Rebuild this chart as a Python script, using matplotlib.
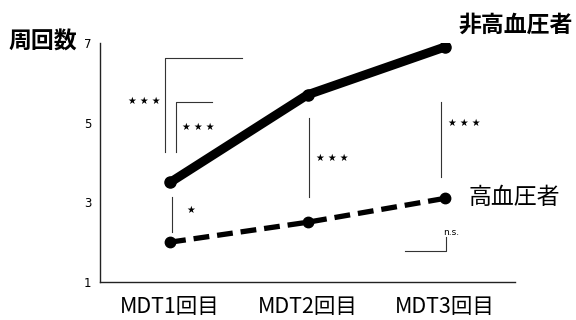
import matplotlib
matplotlib.use("Agg")
import matplotlib.pyplot as plt

plt.rcParams['font.family'] = ['Noto Sans CJK JP', 'DejaVu Sans']

categories = ["MDT1回目", "MDT2回目", "MDT3回目"]
normotensive = [3.5, 5.7, 6.9]     # 非高血圧者
hypertensive = [2.0, 2.5, 3.1]     # 高血圧者
yticks = [1, 3, 5, 7]

fig = plt.figure(figsize=(5.76, 3.2), dpi=100)
ax = fig.add_axes([100 / 576, 38 / 320, 415 / 576, 239 / 320])

x = list(range(len(categories)))
ax.plot(x, normotensive, color="black", lw=6.5, solid_capstyle="round",
        marker="o", markersize=8, zorder=3)
ax.plot(x, hypertensive, color="black", lw=3.8, dashes=(3, 1.5),
        marker="o", markersize=7.5, zorder=3)

ax.set_xlim(-0.51, 2.51)
ax.set_ylim(1, 7)
ax.set_yticks(yticks)
ax.set_yticklabels([str(t) for t in yticks], fontsize=8.5, family="DejaVu Sans")
ax.set_xticks(x)
ax.set_xticklabels(categories, fontsize=15.5)
ax.tick_params(axis="both", length=0, pad=6)
ax.tick_params(axis="x", pad=10)
for s in ["top", "right"]:
    ax.spines[s].set_visible(False)
for s in ["left", "bottom"]:
    ax.spines[s].set_linewidth(1.0)
    ax.spines[s].set_color("#222222")

# significance brackets
thin = dict(color="#333333", lw=0.8)
star = dict(fontsize=7, family="DejaVu Sans", va="center")
ax.plot([-0.036, -0.036, 0.52], [4.27, 6.62, 6.62], **thin)
ax.text(-0.07, 5.55, "★ ★ ★", ha="right", **star)
ax.plot([0.044, 0.044, 0.305], [4.27, 5.53, 5.53], **thin)
ax.text(0.09, 4.88, "★ ★ ★", ha="left", **star)
ax.plot([0.015, 0.015], [2.26, 3.14], **thin)
ax.text(0.12, 2.8, "★", ha="left", **star)
ax.plot([1.01, 1.01], [3.14, 5.11], **thin)
ax.text(1.06, 4.12, "★ ★ ★", ha="left", **star)
ax.plot([1.97, 1.97], [3.64, 5.53], **thin)
ax.text(2.02, 5.0, "★ ★ ★", ha="left", **star)
ax.plot([1.71, 2.01, 2.01], [1.78, 1.78, 2.12], **thin)
ax.text(1.99, 2.14, "n.s.", ha="left", va="bottom", fontsize=6.5, family="DejaVu Sans")

# series labels
fig.text(458 / 576, 1 - 25 / 320, "非高血圧者", fontsize=16.5, fontweight="bold",
         ha="left", va="center")
fig.text(469 / 576, 1 - 197 / 320, "高血圧者", fontsize=16.5,
         ha="left", va="center")
fig.text(8 / 576, 1 - 42 / 320, "周回数", fontsize=16.5, fontweight="bold",
         ha="left", va="center")

fig.savefig("out.png", dpi=100)
